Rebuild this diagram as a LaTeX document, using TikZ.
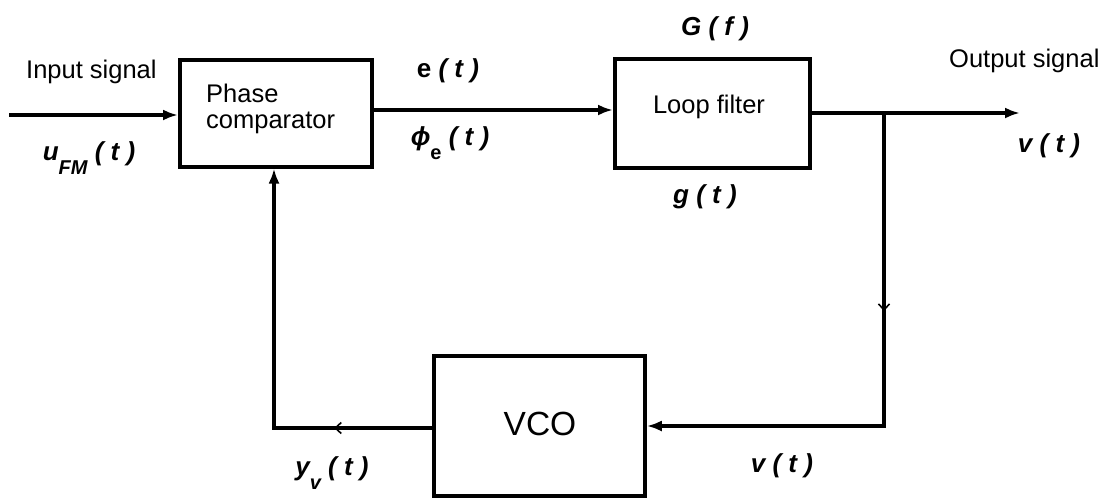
\documentclass[tikz,border=0pt]{standalone}
\usepackage{fontspec}
\setmainfont{Liberation Sans}
\usetikzlibrary{arrows.meta,decorations.markings}
\newcommand\lowsub[1]{\raisebox{-14pt}{\fontsize{20}{20}\selectfont #1}}
\begin{document}
\begin{tikzpicture}[x=1pt,y=-1pt,
  blk/.style={draw,line width=4pt,inner sep=0pt},
  lbl/.style={font=\fontsize{25.5}{26}\selectfont,inner sep=0pt},
  mlbl/.style={font=\fontsize{26}{26}\selectfont\bfseries\itshape,inner sep=0pt,anchor=base},
  wire/.style={line width=3.5pt},
  arr/.style={wire,-{Latex[length=15pt,width=11pt]}},
  midarr/.style={postaction={decorate},decoration={markings,mark=at position #1 with {\arrow{Straight Barb[length=6pt,width=11pt,line width=1.6pt]}}}},
]
\useasboundingbox (0,0) rectangle (1109,498);
% blocks
\node[blk,minimum width=192pt,minimum height=107pt] (pc) at (276,113) {};
\node[blk,minimum width=195pt,minimum height=109pt] (lf) at (712.5,113) {};
\node[blk,line width=3.5pt,minimum width=211pt,minimum height=140pt] (vco) at (539.5,426) {};
% block texts
\node[lbl,anchor=base west] (pct) at (206,102) {Phase};
\node[lbl,anchor=base west] (pct2) at (206,128) {comparator};
\node[lbl,anchor=base] (lft) at (709,113) {Loop filter};
\node[lbl,anchor=base,font=\fontsize{33.5}{34}\selectfont] (vcot) at (540,435) {VCO};
% coordinates
\coordinate (inS) at (9,115);
\coordinate (br) at (884,113);
\coordinate (outE) at (1020,113);
\coordinate (fbc) at (274,428);
% connectors
\draw[arr] (inS) -- (inS -| pc.west);
\draw[arr] ([yshift=3pt]pc.east) -- ([yshift=3pt]lf.west);
\draw[arr] (lf.east) -- (outE);
\draw[arr,midarr=0.36] (br) -- (br |- vco.east) -- (vco.east);
\draw[arr,midarr=0.235] ([yshift=-2pt]vco.west) -- (fbc) -- (fbc |- pc.south);
% labels
\node[lbl,anchor=base west] (insig) at (26,78) {Input signal};
\node[lbl,anchor=base west] (outsig) at (949,67) {Output signal};
\node[mlbl] (ufm) at (89,160) {u\lowsub{FM} ( t )};
\node[mlbl] (et) at (448,77) {{\upshape e} ( t )};
\node[mlbl] (phie) at (450,145) {ϕ\lowsub{\upshape e} ( t )};
\node[mlbl] (Gf) at (715,35) {G ( f )};
\node[mlbl] (gt) at (705,203) {g ( t )};
\node[mlbl] (vt1) at (1049,152) {v ( t )};
\node[mlbl] (vt2) at (782,472) {v ( t )};
\node[mlbl] (yv) at (332,475) {y\lowsub{v} ( t )};
\end{tikzpicture}
\end{document}
